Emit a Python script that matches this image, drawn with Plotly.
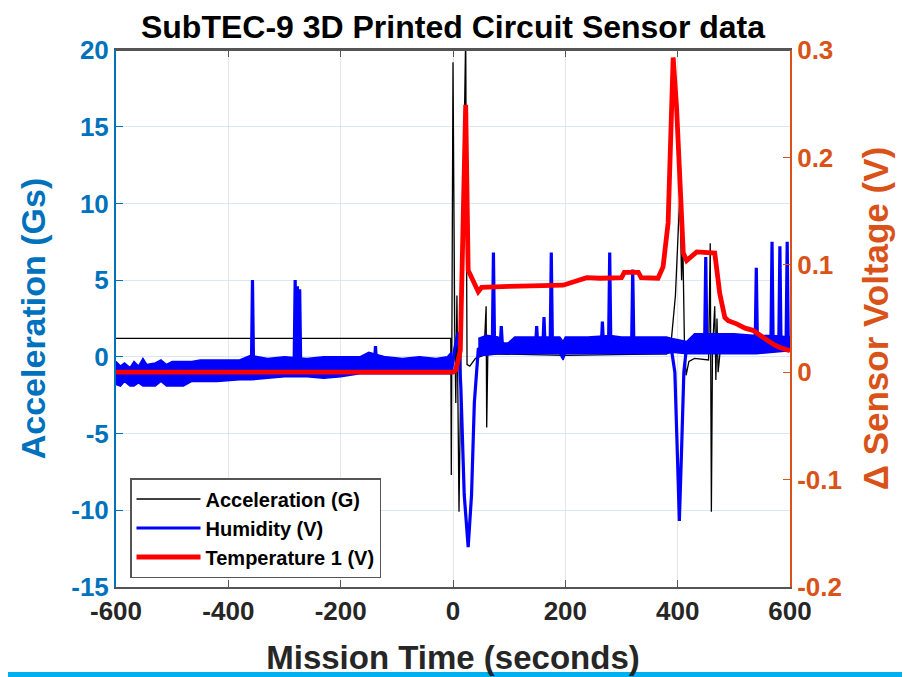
import plotly.graph_objects as go

# ---------------- data ----------------
title_text = "SubTEC-9 3D Printed Circuit Sensor data"

x_ticks = [-600, -400, -200, 0, 200, 400, 600]
x_ticklabels = ["-600", "-400", "-200", "0", "200", "400", "600"]
y_ticks = [20, 15, 10, 5, 0, -5, -10, -15]
y_ticklabels = ["20", "15", "10", "5", "0", "-5", "-10", "-15"]
y2_ticks = [0.3, 0.2, 0.1, 0, -0.1, -0.2]
y2_ticklabels = ["0.3", "0.2", "0.1", "0", "-0.1", "-0.2"]

# Acceleration (G), left axis
acc_t = [-600, -4, -3, 0, 3, 5, 7, 10.7, 16, 22.6, 25, 30, 40, 55, 59, 60, 62,
         200, 380, 388, 396, 404, 407, 409, 412, 415, 420, 430, 455, 458, 460,
         462, 466, 468, 470, 472, 476, 600]
acc_v = [1.2, 1.2, -7.7, 19.2, 2.0, -3.0, 4.0, -10.1, 5.0, 21.0, -0.5, -0.6, -0.1, 0.1, 3.3, -4.6, 0.2,
         0.1, 0.2, 0.8, 4.0, 10.7, 5.0, 7.8, 1.0, -1.2, -0.3, -0.1, -0.2, 7.4, -10.1,
         0.5, 3.3, -1.5, 2.5, -1.0, 0.5, 0.5]

# Humidity (V) noise band envelope, left axis
band1_t = [-600, -592, -585, -575, -568, -560, -552, -545, -530, -520, -510, -500, -480,
           -465, -450, -420, -380, -360, -330, -300, -260, -230, -200, -166, -150, -120,
           -90, -60, -30, -10, -3]
band1_hi = [-0.3, -0.6, -0.4, -0.7, -0.3, -0.6, -0.1, -0.5, -0.4, -0.2, -0.5, -0.3, -0.3,
            -0.3, -0.2, -0.2, -0.2, 0.1, -0.1, 0.0, -0.1, 0.0, 0.0, 0.0, 0.3, 0.0,
            -0.1, 0.0, -0.1, 0.0, 0.3]
band1_lo = [-1.8, -1.9, -1.6, -1.9, -1.9, -1.7, -1.9, -1.9, -1.9, -1.6, -1.9, -1.9, -1.9,
            -1.6, -1.6, -1.6, -1.5, -1.5, -1.4, -1.3, -1.3, -1.4, -1.3, -1.1, -1.1, -1.1,
            -1.1, -1.1, -1.1, -1.1, -1.1]

band2_t = [45, 60, 80, 90, 98, 110, 150, 190, 196, 200, 240, 280, 300, 350, 380, 390,
           416, 430, 460, 500, 540, 570, 600]
band2_hi = [1.2, 1.4, 1.3, 0.9, 0.9, 1.3, 1.3, 1.3, 1.0, 1.3, 1.3, 1.4, 1.3, 1.3, 1.3, 1.2,
            1.0, 1.5, 1.5, 1.5, 1.4, 1.4, 1.3]
band2_lo = [0.1, 0.1, 0.2, 0.2, 0.2, 0.2, 0.2, 0.2, -0.2, 0.2, 0.2, 0.2, 0.2, 0.2, 0.2, 0.3,
            0.2, 0.2, 0.2, 0.2, 0.2, 0.3, 0.4]

# Humidity (V) main trace with spikes, left axis
hum_t = [-600, -359, -357, -355, -283, -281, -279, -277, -275, -273, -271,
         -140, -138, -136, -3, 3, 9, 14, 20, 27, 33, 38, 45, 60,
         70, 72, 74, 84, 86, 88, 147, 149, 151, 160, 162, 164, 173, 175, 177,
         264, 266, 268, 277, 279, 281, 318, 320, 322, 388, 395, 400, 403, 407, 411, 416,
         448, 450, 452, 538, 540, 542, 566, 568, 570, 580, 582, 584, 593, 595, 597, 600]
hum_v = [-1.0, -1.0, 5.0, -1.0, -1.0, 5.0, -1.0, 4.6, -1.0, 4.4, -1.0,
         -0.5, 0.7, -0.5, -1.0, 0.5, 1.6, -2.0, -9.0, -12.4, -9.0, -3.0, 0.5, 0.7,
         0.7, 6.8, 0.7, 0.7, 2.0, 0.7, 0.7, 2.0, 0.7, 0.7, 2.6, 0.7, 0.7, 6.8, 0.7,
         0.7, 2.3, 0.7, 0.7, 6.8, 0.7, 0.7, 5.7, 0.7, 0.7, -1.0, -7.0, -10.7, -6.0, -1.0, 0.7,
         0.8, 6.5, 0.8, 0.8, 5.8, 0.8, 0.8, 7.5, 0.8, 0.8, 7.2, 0.8, 0.8, 7.5, 0.8, 0.8]

# Temperature 1 (V), right axis
temp_t = [-600, 0, 5, 9, 13, 22.6, 27, 45, 51, 100, 196, 238, 262, 300, 305, 330, 335,
          365, 374, 383, 388, 392, 398, 404, 410, 416, 434, 466, 475, 484, 490, 505,
          520, 534, 545, 559, 570, 582, 600]
temp_v = [0.0, 0.0, 0.002, 0.011, 0.02, 0.249, 0.095, 0.075, 0.079, 0.080, 0.081, 0.088,
          0.0875, 0.088, 0.093, 0.093, 0.088, 0.0875, 0.098, 0.139, 0.22, 0.293, 0.247,
          0.169, 0.111, 0.104, 0.112, 0.111, 0.073, 0.051, 0.048, 0.045, 0.041, 0.039,
          0.035, 0.030, 0.026, 0.023, 0.020]

# ---------------- styling ----------------
FONT = "Liberation Sans, Arial, sans-serif"
BLUE_AX = "#0072BD"
ORANGE_AX = "#D95319"
DARK = "#262626"

# page body has an 8px default margin, so the figure is 8px smaller than the window
W, H = 902, 669
ML, MR, MT, MB = 108, 120, 42, 90
PW, PH = W - ML - MR, H - MT - MB

fig = go.Figure()

fig.add_trace(go.Scatter(x=acc_t, y=acc_v, mode="lines", name="Acceleration (G)",
                         line=dict(color="black", width=1.3)))

# humidity noise band (polygon from envelope arrays)
for bt, bh, bl in [(band1_t, band1_hi, band1_lo), (band2_t, band2_hi, band2_lo)]:
    fig.add_trace(go.Scatter(x=bt + bt[::-1], y=bh + bl[::-1], mode="lines",
                             fill="toself", fillcolor="#0000FF",
                             line=dict(color="#0000FF", width=1.5),
                             showlegend=False, hoverinfo="skip"))

fig.add_trace(go.Scatter(x=hum_t, y=hum_v, mode="lines", name="Humidity (V)",
                         line=dict(color="#0000FF", width=3.2)))

fig.add_trace(go.Scatter(x=temp_t, y=temp_v, mode="lines", name="Temperature 1 (V)",
                         yaxis="y2", line=dict(color="#FF0000", width=4.8)))

fig.update_layout(
    width=W, height=H,
    margin=dict(l=ML, r=MR, t=MT, b=MB, autoexpand=False),
    paper_bgcolor="white", plot_bgcolor="white",
    font=dict(family=FONT, color=DARK),
    title=dict(text=title_text, x=0.5, xanchor="center", y=1 - 19 / H, yanchor="middle",
               xref="paper",
               font=dict(family=FONT, size=32, color="black", weight="bold")),
    xaxis=dict(range=[-600, 600], tickvals=x_ticks, ticktext=x_ticklabels,
               automargin=False,
               showgrid=True, gridcolor="#e6e6e6", gridwidth=1.2,
               zeroline=False, showline=True, linecolor="#555555", linewidth=2,
               mirror="ticks", ticks="inside", ticklen=7, tickcolor="#555555",
               tickfont=dict(family=FONT, size=26, color=DARK, weight="bold"),
               title=dict(text="Mission Time (seconds)", standoff=21,
                          font=dict(family=FONT, size=33, color=DARK, weight="bold"))),
    yaxis=dict(range=[-15, 20], tickvals=y_ticks, ticktext=y_ticklabels,
               automargin=False,
               showgrid=True, gridcolor="#d9e8f4", gridwidth=1.2,
               zeroline=False, showline=True, linecolor=BLUE_AX, linewidth=2,
               ticks="inside", ticklen=7, tickcolor=BLUE_AX,
               tickfont=dict(family=FONT, size=26, color=BLUE_AX, weight="bold"),
               title=dict(text="Acceleration (Gs)",
                          font=dict(family=FONT, size=34, color=BLUE_AX, weight="bold"))),
    yaxis2=dict(range=[-0.2, 0.3], tickvals=y2_ticks, ticktext=y2_ticklabels,
                automargin=False,
                overlaying="y", side="right", showgrid=False, zeroline=False,
                showline=True, linecolor=ORANGE_AX, linewidth=2,
                ticks="inside", ticklen=7, tickcolor=ORANGE_AX,
                tickfont=dict(family=FONT, size=26, color=ORANGE_AX, weight="bold"),
                title=dict(text="\u0394 Sensor Voltage (V)", standoff=22,
                           font=dict(family=FONT, size=35, color=ORANGE_AX, weight="bold"))),
    legend=dict(x=(130 - 116) / PW, y=(587 - 478) / PH, xanchor="left", yanchor="top",
                bgcolor="white", bordercolor="#555555", borderwidth=1.5,
                font=dict(family=FONT, size=20, color="black", weight="bold"),
                tracegroupgap=0, itemwidth=64),
    showlegend=True,
)

# top border line of the box
fig.add_shape(type="line", xref="paper", yref="paper", x0=0, x1=1, y0=1, y1=1,
              line=dict(color="#555555", width=2))

# cyan strip at the bottom of the slide
fig.add_shape(type="rect", xref="paper", yref="paper",
              x0=-ML / PW, x1=(W - ML) / PW, y0=-90 / PH, y1=-85 / PH,
              line=dict(width=0), fillcolor="#00B0F0", layer="above")

fig.write_html("out.html")
